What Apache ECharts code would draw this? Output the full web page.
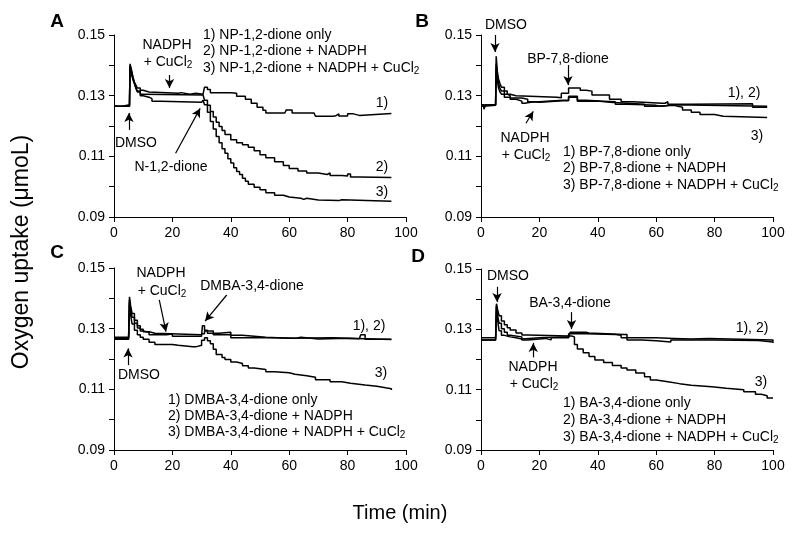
<!DOCTYPE html>
<html>
<head>
<meta charset="utf-8">
<script src="https://cdn.jsdelivr.net/npm/echarts@6/dist/echarts.min.js"></script>
<style>
html, body { margin: 0; padding: 0; background: #fff; }
#chart { width: 800px; height: 538px; }
</style>
</head>
<body>
<div id="chart"></div>
<script>
// oxygen uptake traces, [time (min), umol]
const npOnly = [[0,0.1265],[3,0.127],[5.3,0.127],[5.5,0.140],[6,0.138],[6.5,0.136],[7,0.1345],[7.5,0.1335],[8,0.1325],[9,0.1318],[10,0.1312],[12,0.1308],[22,0.131],[23,0.1305],[26,0.1308],[28,0.1305],[30.5,0.1305],[31,0.1328],[32,0.132],[33,0.131],[40,0.1308],[42,0.1298],[45,0.1288],[47,0.1275],[49,0.1262],[51,0.1252],[52,0.1243],[58.5,0.1243],[59,0.1253],[61,0.1243],[68.5,0.1243],[69,0.1232],[75,0.1234],[76,0.124],[77,0.1233],[80,0.124],[82,0.1235],[84,0.1241],[95,0.1241]];
const npNadph = [[0,0.1265],[5.3,0.1265],[5.5,0.1395],[6,0.137],[6.5,0.1352],[7,0.134],[7.5,0.1325],[8,0.1315],[9,0.1305],[10,0.1302],[30.5,0.1302],[31,0.1285],[32,0.1268],[33,0.1248],[34,0.123],[35,0.1212],[36,0.1198],[37,0.1185],[38,0.1172],[40,0.1155],[42,0.1145],[44,0.1138],[46,0.113],[48,0.1118],[50,0.1105],[52,0.1095],[55,0.1082],[58,0.107],[60,0.106],[63,0.1052],[66,0.1045],[70,0.104],[73,0.1045],[74,0.1037],[78,0.1035],[80,0.1042],[81,0.1032],[84,0.103],[95,0.103]];
const npCu = [[0,0.1265],[5.3,0.1265],[5.5,0.1405],[6,0.1385],[6.5,0.136],[7,0.134],[7.5,0.1325],[8,0.1312],[9,0.130],[10,0.1295],[12,0.129],[13,0.1282],[15,0.1282],[16,0.1278],[30,0.1278],[30.5,0.1285],[31,0.127],[32,0.1245],[33,0.1215],[34,0.119],[35,0.1165],[36,0.1145],[37,0.1125],[38,0.111],[39,0.1092],[40,0.1078],[41,0.1062],[42,0.105],[43,0.104],[44,0.1028],[45,0.1018],[46,0.1008],[48,0.0998],[50,0.099],[52,0.098],[55,0.0972],[58,0.0966],[60,0.0962],[64,0.0958],[65,0.0962],[66,0.0956],[70,0.0954],[77,0.0957],[78,0.0952],[95,0.0952]];

const bpOnly = [[0,0.127],[1,0.1258],[1.5,0.127],[5,0.127],[5.2,0.143],[5.6,0.138],[6,0.1355],[6.5,0.134],[7,0.1328],[8,0.1315],[9,0.1305],[10,0.130],[12,0.1295],[26,0.1293],[27.5,0.1308],[30,0.1325],[34,0.1318],[36,0.1315],[38,0.1302],[44,0.1288],[48,0.128],[52,0.1275],[62,0.1275],[63,0.128],[64,0.1272],[71.5,0.1273],[93,0.1262],[98,0.1262]];
const bpNadph = [[0,0.127],[1,0.1255],[1.5,0.127],[5,0.1268],[5.2,0.1405],[5.6,0.1365],[6,0.134],[6.5,0.1325],[7,0.1315],[8,0.1305],[9,0.130],[10,0.1292],[14,0.1288],[16,0.128],[20,0.1285],[28,0.1285],[30,0.1298],[33,0.1285],[36,0.1282],[42,0.128],[46,0.1272],[50,0.127],[56,0.1268],[60,0.1265],[62,0.127],[66,0.1265],[98,0.1265]];
const bpCu = [[0,0.1265],[1,0.126],[1.5,0.1268],[5,0.1268],[5.2,0.139],[5.6,0.135],[6,0.1325],[6.5,0.1312],[7,0.1305],[8,0.1295],[10,0.1288],[12,0.1282],[14,0.1275],[15,0.128],[18,0.1278],[20,0.1283],[28,0.1283],[30,0.1295],[33,0.1282],[40,0.1278],[44,0.1272],[56,0.1265],[60,0.1268],[66,0.1262],[69,0.1253],[72,0.1245],[75,0.1238],[80,0.1232],[83,0.1228],[98,0.1226]];

const dmbaOnly = [[0,0.1268],[5,0.1268],[5.3,0.1405],[5.7,0.1375],[6.2,0.135],[7,0.1328],[8,0.131],[9,0.1298],[10,0.129],[12,0.1285],[14,0.128],[30,0.128],[30.3,0.131],[31,0.1295],[32,0.1285],[36,0.1288],[40,0.1278],[44,0.1272],[52,0.1268],[60,0.127],[75,0.1267],[84,0.1267],[84.5,0.128],[86,0.1265],[95,0.1265]];
const dmbaNadph = [[0,0.1272],[5,0.1272],[5.3,0.1395],[5.7,0.1365],[6.2,0.1338],[7,0.1318],[8,0.1302],[9,0.1292],[10,0.1288],[12,0.128],[18,0.1282],[20,0.1275],[28,0.1275],[30,0.1283],[31,0.1292],[34,0.128],[40,0.127],[55,0.1268],[62,0.1272],[64,0.1266],[70,0.1268],[80,0.1264],[95,0.1263]];
const dmbaCu = [[0,0.1265],[5,0.1265],[5.3,0.1385],[5.7,0.1345],[6.2,0.1315],[7,0.1295],[8,0.128],[9,0.1272],[10,0.1265],[12,0.1255],[14,0.1248],[20,0.1245],[22,0.124],[27,0.124],[28,0.1245],[30,0.1262],[31,0.127],[32,0.126],[33,0.125],[34,0.1232],[35,0.1215],[37,0.1205],[38,0.1198],[40,0.119],[42,0.1185],[44,0.1178],[46,0.117],[48,0.1165],[52,0.1158],[55,0.1155],[60,0.115],[62,0.1145],[66,0.114],[69,0.1132],[74,0.1125],[78,0.112],[81,0.1114],[86,0.111],[90,0.1105],[93,0.1102],[95,0.1098]];

const baOnly = [[0,0.1265],[5,0.1265],[5.3,0.138],[5.7,0.133],[6.2,0.1295],[7,0.128],[8,0.1275],[10,0.1272],[12,0.1268],[14,0.1272],[20,0.1275],[28,0.1275],[30,0.1285],[36,0.1283],[46,0.128],[48,0.1272],[60,0.127],[66,0.1268],[72,0.127],[78,0.1265],[100,0.126]];
const baNadph = [[0,0.1272],[5,0.1272],[5.3,0.1375],[5.7,0.1345],[6.2,0.132],[7,0.1302],[8,0.129],[9,0.128],[10,0.1275],[14,0.1265],[16,0.127],[22,0.1265],[24,0.1272],[30,0.1275],[30.5,0.129],[36,0.1288],[37,0.1283],[49,0.1283],[50,0.1265],[55,0.1262],[60,0.1258],[65,0.1265],[80,0.1263],[95,0.1258],[100,0.1255]];
const baCu = [[0,0.1265],[5,0.1265],[5.3,0.1385],[5.7,0.1365],[6.2,0.1345],[7,0.1328],[8,0.1315],[9,0.1305],[10,0.1298],[12,0.1288],[14,0.1281],[16,0.1278],[30,0.1278],[31,0.1275],[32,0.125],[33,0.1235],[35,0.1222],[37,0.121],[39,0.1198],[42,0.119],[45,0.118],[48,0.1172],[50,0.1165],[53,0.1155],[56,0.1143],[58,0.1132],[60,0.1126],[64,0.112],[68,0.1115],[72,0.111],[79,0.1105],[84,0.11],[90,0.1093],[94,0.1085],[96,0.108],[98,0.1072],[100,0.107]];

// addition arrows, [from, to] in data units
const arrowsA = [[[19,0.1368],[19,0.1325]], [[5.1,0.1187],[5.1,0.1243]], [[21.1,0.111],[29.5,0.1258]]];
const arrowsB = [[[4.8,0.150],[4.8,0.1444]], [[29.8,0.1401],[29.8,0.1335]], [[15.4,0.1209],[17.9,0.1248]]];
const arrowsC = [[[15.5,0.1395],[17.8,0.129]], [[38.6,0.1411],[31.2,0.1325]], [[4.8,0.118],[4.8,0.1235]]];
const arrowsD = [[[5.5,0.1441],[5.5,0.1391]], [[31,0.1357],[31,0.1301]], [[17.9,0.1207],[17.9,0.1255]]];

const legendA = ["1) NP-1,2-dione only", "2) NP-1,2-dione + NADPH", "3) NP-1,2-dione + NADPH + CuCl{s|2}"];
const legendB = ["1) BP-7,8-dione only", "2) BP-7,8-dione + NADPH", "3) BP-7,8-dione + NADPH + CuCl{s|2}"];
const legendC = ["1) DMBA-3,4-dione only", "2) DMBA-3,4-dione + NADPH", "3) DMBA-3,4-dione + NADPH + CuCl{s|2}"];
const legendD = ["1) BA-3,4-dione only", "2) BA-3,4-dione + NADPH", "3) BA-3,4-dione + NADPH + CuCl{s|2}"];

const FONT = "'Liberation Sans', Arial, sans-serif";

const grids = [
  {left: 114, top: 35, width: 292, height: 182},
  {left: 481, top: 35, width: 292, height: 182},
  {left: 114, top: 268, width: 292, height: 182},
  {left: 481, top: 269, width: 292, height: 181}
];

function xAxis(i) {
  return {
    type: "value", gridIndex: i, min: 0, max: 100, interval: 20,
    axisLine: {lineStyle: {color: "#000", width: 1}},
    axisTick: {length: 5, lineStyle: {color: "#000"}},
    axisLabel: {color: "#000", fontSize: 14, fontFamily: FONT, margin: 9, showMaxLabel: true, showMinLabel: true},
    splitLine: {show: false}
  };
}
function yAxis(i) {
  return {
    type: "value", gridIndex: i, min: 0.09, max: 0.15, interval: 0.01,
    axisLine: {show: true, lineStyle: {color: "#000", width: 1}},
    axisTick: {show: true, length: 5, lineStyle: {color: "#000"}},
    axisLabel: {
      color: "#000", fontSize: 14, fontFamily: FONT, margin: 9, showMaxLabel: true, showMinLabel: true,
      formatter: v => Math.round(v * 100) % 2 === 1 ? v.toFixed(2) : ""
    },
    splitLine: {show: false}
  };
}
function trace(i, data, arrows) {
  const s = {
    type: "line", xAxisIndex: i, yAxisIndex: i, data: data,
    step: "end", showSymbol: false, silent: true, animation: false,
    lineStyle: {color: "#000", width: 1.5}
  };
  if (arrows) {
    s.markLine = {
      silent: true, animation: false,
      symbol: ["none", "arrow"], symbolSize: [7, 9],
      label: {show: false},
      lineStyle: {color: "#000", width: 1.2, type: "solid"},
      data: arrows.map(([a, b]) => [{coord: a}, {coord: b}])
    };
  }
  return s;
}

const rich = {s: {fontSize: 10, fontFamily: FONT, fill: "#000", padding: [7, 0, 0, 0], verticalAlign: "bottom"}};
function txt(x, y, text, align = "center", size = 14, weight = "normal") {
  return {
    type: "text", x: x, y: y, silent: true,
    style: {
      text: text, fill: "#000", fontSize: size, fontFamily: FONT, fontWeight: weight,
      align: align, textAlign: align, verticalAlign: "middle", textVerticalAlign: "middle", rich: rich
    }
  };
}
function legend(x, ys, lines) {
  return lines.map((l, k) => txt(x, ys[k], l, "left"));
}

const graphic = [
  txt(57, 22, "A", "center", 19, "bold"),
  txt(422, 22, "B", "center", 19, "bold"),
  txt(57, 253, "C", "center", 19, "bold"),
  txt(418, 257, "D", "center", 19, "bold"),
  // A
  ...legend(203, [35, 51.5, 68], legendA),
  txt(167, 45, "NADPH"), txt(168, 62, "+ CuCl{s|2}"),
  txt(136, 143, "DMSO"), txt(171, 167, "N-1,2-dione"),
  txt(382, 103, "1)"), txt(382, 167, "2)"), txt(382, 192, "3)"),
  // B
  txt(506, 25, "DMSO"), txt(568, 59, "BP-7,8-dione"),
  txt(525, 138, "NADPH"), txt(526, 155, "+ CuCl{s|2}"),
  ...legend(563, [152, 168.5, 185], legendB),
  txt(744, 93, "1), 2)"), txt(757, 136, "3)"),
  // C
  txt(161, 273, "NADPH"), txt(162, 291, "+ CuCl{s|2}"),
  txt(252, 286, "DMBA-3,4-dione"), txt(139, 375, "DMSO"),
  ...legend(168, [400, 416, 432], legendC),
  txt(369, 326, "1), 2)"), txt(381, 373, "3)"),
  // D
  txt(508, 276, "DMSO"), txt(570, 303, "BA-3,4-dione"),
  txt(533, 367, "NADPH"), txt(534, 384, "+ CuCl{s|2}"),
  ...legend(563, [403, 420, 437], legendD),
  txt(752, 328, "1), 2)"), txt(761, 382, "3)"),
  // axis titles
  txt(400, 513, "Time (min)", "center", 20),
  Object.assign(txt(22, 252, "Oxygen uptake (\u03bcmoL)", "center", 23), {rotation: Math.PI / 2})
];

const chart = echarts.init(document.getElementById("chart"), null, {renderer: "canvas"});
chart.setOption({
  animation: false,
  backgroundColor: "#fff",
  grid: grids,
  xAxis: [0, 1, 2, 3].map(xAxis),
  yAxis: [0, 1, 2, 3].map(yAxis),
  series: [
    trace(0, npOnly, arrowsA), trace(0, npNadph), trace(0, npCu),
    trace(1, bpOnly, arrowsB), trace(1, bpNadph), trace(1, bpCu),
    trace(2, dmbaOnly, arrowsC), trace(2, dmbaNadph), trace(2, dmbaCu),
    trace(3, baOnly, arrowsD), trace(3, baNadph), trace(3, baCu)
  ],
  graphic: graphic
});
</script>
</body>
</html>
